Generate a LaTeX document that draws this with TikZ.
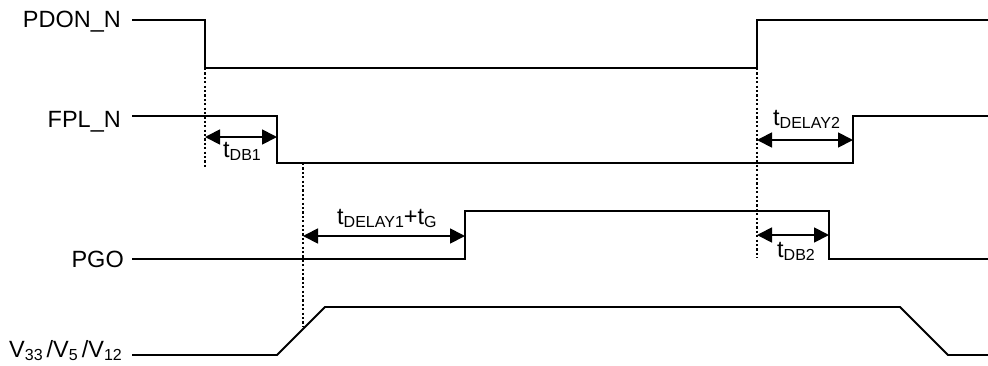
\documentclass[tikz,border=0pt]{standalone}
\usepackage{fontspec}
\setmainfont{Liberation Sans}
\usetikzlibrary{arrows.meta}
\newcommand\sbs[1]{\raisebox{-3.5pt}{\fontsize{16}{16}\selectfont #1}}
\begin{document}
\begin{tikzpicture}[x=1pt,y=-1pt,
  sig/.style={line width=1.8pt,line join=miter},
  guide/.style={line width=1.4pt,dash pattern=on 2.2pt off 2.2pt},
  span/.style={line width=1.8pt,{Triangle[length=15pt,width=15pt]}-{Triangle[length=15pt,width=15pt]}},
  lbl/.style={inner sep=0pt,font=\fontsize{23.5}{27}\selectfont},
  tlbl/.style={inner sep=0pt,anchor=base west,font=\fontsize{23.5}{27}\selectfont}]
\useasboundingbox (0,0) rectangle (988,365);
% signal names
\node[lbl,anchor=base east] (nPD) at (121,27) {PDON\_N};
\node[lbl,anchor=base east] (nFP) at (121,127) {FPL\_N};
\node[lbl,anchor=base east] (nPG) at (124,267) {PGO};
\node[lbl,anchor=base east] (nV) at (122,357) {V\sbs{33}\hspace{4pt}/V\sbs{5}\hspace{4pt}/V\sbs{12}};
% PDON_N
\coordinate (p0) at (132,20); \coordinate (p1) at (205,20); \coordinate (p2) at (205,68);
\coordinate (p3) at (757,68); \coordinate (p4) at (757,20); \coordinate (p5) at (988,20);
\draw[sig] (p0) -- (p1) -- (p2) -- (p3) -- (p4) -- (p5);
% FPL_N
\coordinate (f0) at (132,116); \coordinate (f1) at (277,116); \coordinate (f2) at (277,163);
\coordinate (f3) at (853,163); \coordinate (f4) at (853,116); \coordinate (f5) at (988,116);
\draw[sig] (f0) -- (f1) -- (f2) -- (f3) -- (f4) -- (f5);
% PGO
\coordinate (g0) at (132,259); \coordinate (g1) at (465,259); \coordinate (g2) at (465,211);
\coordinate (g3) at (829,211); \coordinate (g4) at (829,259); \coordinate (g5) at (988,259);
\draw[sig] (g0) -- (g1) -- (g2) -- (g3) -- (g4) -- (g5);
% V33/V5/V12
\coordinate (v0) at (132,355); \coordinate (v1) at (277,355); \coordinate (v2) at (325,307);
\coordinate (v3) at (900,307); \coordinate (v4) at (948,355); \coordinate (v5) at (988,355);
\draw[sig] (v0) -- (v1) -- (v2) -- (v3) -- (v4) -- (v5);
% guides
\coordinate (d1b) at (205,168);
\coordinate (d2a) at (303,163); \coordinate (d2b) at (303,327);
\coordinate (d3b) at (757,258);
\draw[guide] (p2) -- (d1b);
\draw[guide] (d2a) -- (d2b);
\draw[guide] (p3) -- (d3b);
% spans
\coordinate (a1) at (205,137); \coordinate (a1e) at (277,137);
\draw[span] (a1) -- (a1e);
\node[tlbl] (tdb1) at (223,157) {t\sbs{DB1}};
\coordinate (a2) at (303,236); \coordinate (a2e) at (465,236);
\draw[span] (a2) -- (a2e);
\node[tlbl] (tdl1) at (337,224) {t\sbs{DELAY1}+t\sbs{G}};
\coordinate (a3) at (757,140); \coordinate (a3e) at (853,140);
\draw[span] (a3) -- (a3e);
\node[tlbl] (tdl2) at (773,125) {t\sbs{DELAY2}};
\coordinate (a4) at (757,235); \coordinate (a4e) at (829,235);
\draw[span] (a4) -- (a4e);
\node[tlbl] (tdb2) at (777,257) {t\sbs{DB2}};
\end{tikzpicture}
\end{document}
